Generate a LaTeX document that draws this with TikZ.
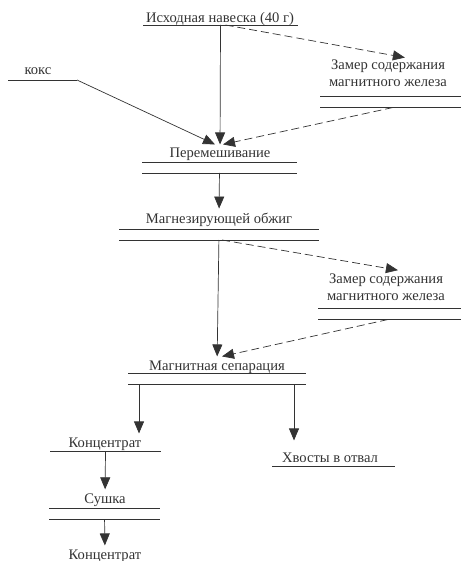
\documentclass[tikz,border=0pt]{standalone}
\usepackage{fontspec}
\setmainfont{Liberation Serif}
\usetikzlibrary{arrows.meta}
\colorlet{ink}{black!80}
\tikzset{%
  >={Triangle[width=10pt,length=12pt]},
  % Specifications for style of nodes:
   stagetext/.style = {inner sep=0pt, outer sep=4pt, text=ink,
                       font=\fontsize{14.6}{17}\selectfont},
      onebar/.style = {inner sep=0pt, outer sep=0pt,
                       minimum height=0pt, minimum width=#1},
      twobar/.style = {inner sep=0pt, outer sep=0pt,
                       minimum height=11pt, minimum width=#1},
        rule/.style = {draw=ink, line width=0.7pt},
        flow/.style = {->, draw=ink, line width=0.7pt},
      sample/.style = {flow, dash pattern=on 8pt off 4pt},
}

\begin{document}
\begin{tikzpicture}[x=1pt, y=-1pt]
\useasboundingbox (0,0) rectangle (461,561);

\node (Src)      [stagetext, anchor=base] at (220,22.5)  {Исходная навеска (40 г)};
\node (SrcBar)   [onebar=155]             at (220.5,25)  {};

\node (Coke)     [stagetext, anchor=base] at (38,75)     {кокс};
\node (CokeBar)  [onebar=69]              at (42.5,80)   {};

\node (MeasA)    [stagetext, anchor=base, align=center] at (388,87)
                 {Замер содержания\\магнитного железа};
\node (MeasABar) [twobar=141]             at (390.5,102) {};

\node (Mix)      [stagetext, anchor=base] at (220,158)   {Перемешивание};
\node (MixBar)   [twobar=155]             at (219.5,167.5) {};

\node (Roast)    [stagetext, anchor=base] at (219,223)   {Магнезирующей обжиг};
\node (RoastBar) [twobar=200]             at (219,234.5) {};

\node (MeasB)    [stagetext, anchor=base, align=center] at (386,300)
                 {Замер содержания\\магнитного железа};
\node (MeasBBar) [twobar=143]             at (389.5,314) {};

\node (Sep)      [stagetext, anchor=base] at (217,370)   {Магнитная сепарация};
\node (SepBar)   [twobar=178]             at (217,378.5) {};

\node (Conc)     [stagetext, anchor=base] at (105,447)   {Концентрат};
\node (ConcBar)  [onebar=111]             at (105.5,451) {};

\node (Tail)     [stagetext, anchor=base] at (330,462)   {Хвосты в отвал};
\node (TailBar)  [onebar=123]             at (333.5,466) {};

\node (Dry)      [stagetext, anchor=base] at (105,503)   {Сушка};
\node (DryBar)   [twobar=111]             at (104.5,513.5) {};

\node (Out)      [stagetext, anchor=base] at (105,559)   {Концентрат};

% bars under the stages
\draw[rule] (SrcBar.west) -- (SrcBar.east);
\draw[rule] (CokeBar.west) -- (CokeBar.east);
\draw[rule] (MeasABar.north west) -- (MeasABar.north east) (MeasABar.south west) -- (MeasABar.south east);
\draw[rule] (MixBar.north west) -- (MixBar.north east) (MixBar.south west) -- (MixBar.south east);
\draw[rule] (RoastBar.north west) -- (RoastBar.north east) (RoastBar.south west) -- (RoastBar.south east);
\draw[rule] (MeasBBar.north west) -- (MeasBBar.north east) (MeasBBar.south west) -- (MeasBBar.south east);
\draw[rule] (SepBar.north west) -- (SepBar.north east) (SepBar.south west) -- (SepBar.south east);
\draw[rule] (ConcBar.west) -- (ConcBar.east);
\draw[rule] (TailBar.west) -- (TailBar.east);
\draw[rule] (DryBar.north west) -- (DryBar.north east) (DryBar.south west) -- (DryBar.south east);

\draw[flow]   (SrcBar) -- (Mix);
\draw[flow]   (CokeBar.east) -- ([xshift=-5pt]Mix.north);
\draw[sample, shorten >=-7pt] ([xshift=5pt]SrcBar.center) -- ([xshift=10pt]MeasA.north);
\draw[sample] ([xshift=2.5pt]MeasABar.south) -- ([xshift=3pt]Mix.north);
\draw[flow]   (MixBar) -- (Roast);
\draw[flow]   (RoastBar) -- (Sep);
\draw[sample, shorten >=-5pt] ([xshift=3pt]RoastBar.south) -- ([xshift=7pt]MeasB.north);
\draw[sample] ([xshift=-1.5pt]MeasBBar.south) -- ([xshift=5pt]Sep.north);
\draw[flow]   ([xshift=-78pt]SepBar.south) -- ([xshift=-78pt]SepBar.south |- Conc.north);
\draw[flow, shorten >=8pt] ([xshift=77pt]SepBar.south) -- ([xshift=77pt]SepBar.south |- Tail.north);
\draw[flow]   (ConcBar) -- (Dry);
\draw[flow]   (DryBar) -- (Out);
\end{tikzpicture}
\end{document}
